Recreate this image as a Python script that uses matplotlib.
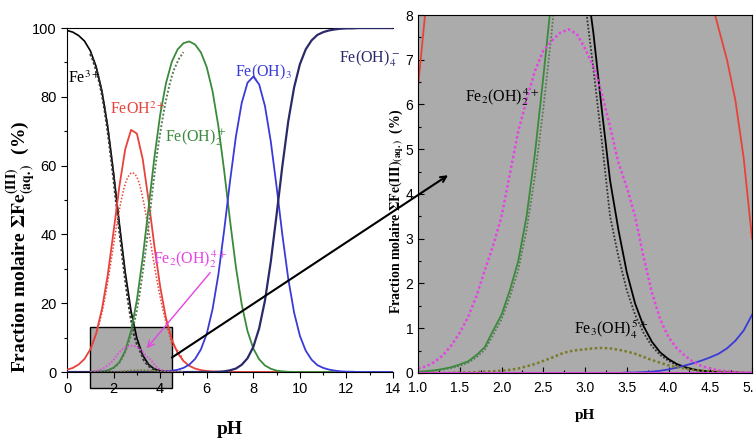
import matplotlib.pyplot as plt
from matplotlib.patches import Rectangle
from matplotlib.ticker import MultipleLocator, FormatStrFormatter

# ---- left panel : mononuclear species, whole pH range ----
ph = [0, 0.25, 0.5, 0.75, 1, 1.25, 1.5, 1.75, 2, 2.25, 2.5, 2.75, 3, 3.25, 3.5, 3.75,
      4, 4.25, 4.5, 4.75, 5, 5.25, 5.5, 5.75, 6, 6.25, 6.5, 6.75, 7, 7.25, 7.5, 7.75,
      8, 8.25, 8.5, 8.75, 9, 9.25, 9.5, 9.75, 10, 10.25, 10.5, 10.75, 11, 11.25, 11.5,
      11.75, 12, 12.25, 12.5, 12.75, 13, 13.25, 13.5, 13.75, 14]

fe3 = [99.3, 98.8, 97.8, 96.2, 93.4, 88.8, 81.6, 71.2, 57.8, 43.0, 29.0, 17.7, 9.8, 4.9,
       2.2, 0.9, 0.35, 0.12, 0.04] + [0] * 38
feoh = [0.7, 1.2, 2.2, 3.8, 6.6, 11.2, 18.3, 28.3, 40.9, 54.1, 64.8, 70.4, 69.3, 61.9,
        50.0, 36.7, 24.8, 15.6, 9.4, 5.5, 3.2, 1.8, 1.0, 0.55, 0.3, 0.15, 0.07] + [0] * 30
feoh2 = [0, 0, 0, 0, 0.02, 0.06, 0.17, 0.48, 1.24, 2.9, 6.2, 11.95, 20.9, 33.2, 47.7,
         62.3, 74.8, 84.0, 90.2, 93.8, 95.6, 96.1, 95.2, 92.9, 88.6, 81.6, 71.4, 58.4,
         44.0, 30.6, 19.7, 11.9, 6.8, 3.7, 1.9, 0.95, 0.4, 0.2, 0.07, 0.03] + [0] * 17
feoh3 = [0] * 16 + [0.09, 0.19, 0.36, 0.66, 1.2, 2.15, 3.8, 6.6, 11.1, 18.3, 28.4, 41.35,
                    55.5, 68.4, 78.2, 84.1, 85.9, 83.6, 77.3, 67.0, 53.8, 39.7, 27.1, 17.3,
                    10.5, 6.2, 3.6, 2.0, 1.2, 0.7, 0.4, 0.2, 0.1, 0.1] + [0] * 7
feoh4 = [0] * 26 + [0.08, 0.2, 0.5, 1.0, 2.1, 4.0, 7.3, 12.7, 20.8, 32.1, 45.8, 60.1,
                    72.9, 82.7, 89.5, 93.8, 96.4, 98.0, 98.8, 99.3, 99.6, 99.8, 99.9,
                    99.9] + [100] * 7

# ---- zoomed range pH 1-5 (also polynuclear species) ----
ph_z = [1.0, 1.1, 1.2, 1.3, 1.4, 1.5, 1.6, 1.7, 1.8, 1.9, 2.0, 2.1, 2.2, 2.3, 2.4, 2.5,
        2.6, 2.7, 2.8, 2.9, 3.0, 3.1, 3.2, 3.3, 3.4, 3.5, 3.6, 3.7, 3.8, 3.9, 4.0, 4.1,
        4.2, 4.3, 4.4, 4.5, 4.6, 4.7, 4.8, 4.9, 5.0]

feoh_z = [6.4, 8.3, 10.2, 12.5, 15, 18, 21.5, 25.5, 30, 35, 40.5, 46, 51.5, 56.5, 61,
          64.5, 67.5, 69.5, 70.5, 70.3, 69, 66.8, 63.5, 59.5, 55, 50, 45, 39.5, 34.5,
          29.5, 25, 21, 17.5, 14.3, 11.4, 8.4, 7.7, 7.0, 6.1, 4.8, 3.0]
feoh_poly = [6.3, 8.1, 9.9, 12.1, 14.5, 17.3, 20.6, 24.3, 28.3, 32.6, 37, 41.3, 45.4, 49,
             52.2, 54.7, 56.5, 57.6, 58, 57.7, 56.7, 54.9, 52.3, 49, 45.2, 41.2, 37.2, 33,
             29, 25.3, 21.8, 18.6, 15.7, 13.1, 10.7, 8.0, 7.3, 6.7, 5.8, 4.6, 2.9]
feoh2_z = [0.03, 0.04, 0.06, 0.09, 0.13, 0.19, 0.26, 0.4, 0.58, 0.95, 1.3, 1.85, 2.5, 3.5,
           4.9, 6.6, 8.4, 10.5, 13, 16, 19.5, 23.5, 28, 33, 38, 44, 50, 56, 61.5, 66.5,
           71, 75, 79, 82, 85, 87.5, 89.5, 91, 92.5, 93.5, 94.5]
feoh2_poly = [0.02, 0.03, 0.05, 0.08, 0.11, 0.16, 0.23, 0.35, 0.52, 0.85, 1.2, 1.7, 2.3,
              3.2, 4.4, 5.9, 7.6, 9.6, 12, 14.8, 18, 22, 26.5, 31.5, 36.5, 42.5, 48.5,
              54.5, 60, 65, 69.5, 73.5, 77.5, 80.5, 83.5, 86, 88, 89.5, 91, 92, 93]
fe3_z = [93, 91.5, 89.5, 87.3, 84.8, 81.6, 78, 73.5, 68.7, 63.4, 57.8, 51.7, 45.8, 40, 34,
         28.5, 23.5, 18.7, 14.5, 11, 9.0, 7.6, 5.9, 4.3, 3.2, 2.25, 1.55, 1.05, 0.7, 0.46,
         0.31, 0.2, 0.13, 0.08, 0.05, 0.03, 0.02, 0.01, 0.01, 0, 0]
fe3_poly = [92.5, 91, 89, 86.7, 84, 80.8, 77, 72.5, 67.5, 62, 56.3, 50.2, 44.2, 38.3, 32.5,
            27, 22, 17.5, 13.5, 10.3, 8.3, 6.8, 5.2, 3.5, 2.6, 1.85, 1.3, 0.9, 0.6, 0.4,
            0.27, 0.17, 0.11, 0.07, 0.04, 0.03, 0.02, 0.01, 0.01, 0, 0]
feoh3_z = [0] * 25 + [0.01, 0.01, 0.02, 0.03, 0.05, 0.08, 0.12, 0.17, 0.22, 0.28, 0.35,
                      0.43, 0.55, 0.72, 0.95, 1.3]
fe2oh2 = [0.1, 0.15, 0.25, 0.4, 0.62, 0.9, 1.25, 1.72, 2.3, 2.85, 3.5, 4.45, 5.4, 6.1,
          6.75, 7.2, 7.42, 7.6, 7.68, 7.58, 7.25, 6.85, 6.25, 5.5, 4.7, 4.15, 3.5, 2.6,
          1.8, 1.2, 0.8, 0.55, 0.38, 0.24, 0.15, 0.1, 0.06, 0.04, 0.02, 0.01, 0.01]
fe3oh4 = [0, 0, 0, 0, 0, 0.01, 0.01, 0.02, 0.03, 0.04, 0.05, 0.07, 0.1, 0.15, 0.2, 0.27,
          0.34, 0.42, 0.48, 0.51, 0.53, 0.55, 0.56, 0.55, 0.52, 0.48, 0.43, 0.36, 0.29,
          0.23, 0.17, 0.13, 0.1, 0.07, 0.05, 0.04, 0.03, 0.02, 0.01, 0.01, 0]
feoh4_z = [0] * 41

RED = '#e8423c'
GREEN = '#3b8a3b'
BLUE = '#3a3ad8'
NAVY = '#2a2a6a'
MAG = '#e444e4'
OLIVE = '#7a7a28'
GRAY = '#ababab'

plt.rcParams['mathtext.fontset'] = 'stix'
SERIF = 'Liberation Serif'

fig = plt.figure(figsize=(7.54, 4.40), dpi=100)
ax1 = fig.add_axes([0.0889, 0.1545, 0.4324, 0.7818])
ax2 = fig.add_axes([0.5544, 0.1523, 0.4430, 0.8136])

# left panel
ax1.add_patch(Rectangle((1, -4.6), 3.5, 17.6, facecolor=GRAY, edgecolor='black',
                        lw=1.0, clip_on=False, zorder=1))
ax1.plot(ph, fe3, color='black', lw=1.2, zorder=3)
ax1.plot(ph_z, fe3_poly, color='#333333', lw=1.8, ls=(0, (1, 0.8)), zorder=3)
ax1.plot(ph, feoh, color=RED, lw=1.3, zorder=3)
ax1.plot(ph_z, feoh_poly, color=RED, lw=1.1, ls=(0, (1, 1.2)), zorder=3)
ax1.plot(ph, feoh2, color=GREEN, lw=1.3, zorder=3)
ax1.plot(ph_z, feoh2_poly, color='#5a7a5a', lw=1.4, ls=(0, (1, 1)), zorder=3)
ax1.plot(ph, feoh3, color=BLUE, lw=1.3, zorder=3)
ax1.plot(ph, feoh4, color=NAVY, lw=1.6, zorder=3)
ax1.plot(ph_z, fe2oh2, color=MAG, lw=1.2, ls=(0, (1, 1)), zorder=3)
ax1.plot(ph_z, fe3oh4, color=OLIVE, lw=1.2, ls=(0, (1, 1)), zorder=3)

ax1.set_xlim(0, 14)
ax1.set_ylim(0, 100)
ax1.xaxis.set_major_locator(MultipleLocator(2))
ax1.xaxis.set_minor_locator(MultipleLocator(1))
ax1.yaxis.set_major_locator(MultipleLocator(20))
ax1.yaxis.set_minor_locator(MultipleLocator(10))
ax1.tick_params(which='both', direction='out', labelsize=10.5, width=0.8)
ax1.tick_params(which='major', length=4)
ax1.tick_params(which='minor', length=2.5)
ax1.spines['right'].set_visible(False)
for lab in ax1.get_xticklabels() + ax1.get_yticklabels():
    lab.set_family('Liberation Sans')

sp = dict(family=SERIF, fontsize=11.5)
ax1.text(0.05, 84, r'Fe$^{3+}$', color='black', **sp)
ax1.text(1.85, 75, r'FeOH$^{2+}$', color=RED, **sp)
ax1.text(4.2, 67, r'Fe(OH)$_2^{\,+}$', color=GREEN, **sp)
ax1.text(7.2, 86, r'Fe(OH)$_3$', color=BLUE, **sp)
ax1.text(11.7, 90, r'Fe(OH)$_4^{\,-}$', color=NAVY, **sp)
ax1.annotate(r'Fe$_2$(OH)$_2^{\,4+}$', xy=(3.42, 6.9), xytext=(3.7, 31.5),
             color=MAG, fontsize=11.5, family=SERIF,
             arrowprops=dict(arrowstyle='->', color=MAG, lw=1.0,
                             shrinkA=0, shrinkB=0, relpos=(0.8, 0)))

ax1.set_xlabel('pH', family=SERIF, fontsize=14, fontweight='bold', labelpad=18)
fig.text(0.027, 0.44, r'Fraction molaire $\mathbf{\Sigma Fe}^{\mathbf{(III)}}_{\mathbf{(aq.)}}$  (%)',
         rotation=90, ha='center', va='center', family=SERIF, fontsize=14,
         fontweight='bold')

# right panel (zoom)
ax2.set_facecolor(GRAY)
ax2.plot(ph_z, feoh_z, color=RED, lw=1.3)
ax2.plot(ph_z, feoh2_poly, color='#5a7a5a', lw=1.3, ls=(0, (1, 1)))
ax2.plot(ph_z, feoh2_z, color=GREEN, lw=1.3)
ax2.plot(ph_z, fe3_poly, color='#333333', lw=1.3, ls=(0, (1, 1)))
ax2.plot(ph_z, fe3_z, color='black', lw=1.3)
ax2.plot(ph_z, feoh3_z, color=BLUE, lw=1.3)
ax2.plot(ph_z, fe2oh2, color=MAG, lw=1.8, ls=(0, (1, 1)))
ax2.plot(ph_z, fe3oh4, color=OLIVE, lw=1.8, ls=(0, (1, 1)))
ax2.plot(ph_z, feoh4_z, color=MAG, lw=1.5)

ax2.set_xlim(1, 5)
ax2.set_ylim(0, 8)
ax2.xaxis.set_major_locator(MultipleLocator(0.5))
ax2.xaxis.set_minor_locator(MultipleLocator(0.25))
ax2.yaxis.set_major_locator(MultipleLocator(1))
ax2.yaxis.set_minor_locator(MultipleLocator(0.5))
ax2.xaxis.set_major_formatter(FormatStrFormatter('%.1f'))
ax2.tick_params(which='both', direction='in', labelsize=10, width=0.8)
ax2.tick_params(which='major', length=4)
ax2.tick_params(which='minor', length=2.5)
ax2.tick_params(axis='x', pad=6)
for lab in ax2.get_xticklabels() + ax2.get_yticklabels():
    lab.set_family('Liberation Sans')

ax2.text(1.56, 6.05, r'Fe$_2$(OH)$_2^{\,4+}$', color='black', **sp)
ax2.text(2.87, 0.85, r'Fe$_3$(OH)$_4^{\,5+}$', color='black', **sp)

ax2.set_xlabel('pH', family=SERIF, fontsize=11, fontweight='bold', labelpad=10)
fig.text(0.526, 0.52, r'Fraction molaire $\mathbf{\Sigma Fe(III)}_{\mathbf{(aq.)}}$  (%)',
         rotation=90, ha='center', va='center', family=SERIF, fontsize=10,
         fontweight='bold')

# connector arrow from the shaded box to the zoomed panel
ax2.annotate('', xy=(1.36, 4.42), xycoords=ax2.transData,
             xytext=(4.5, 4.2), textcoords=ax1.transData,
             arrowprops=dict(arrowstyle='->', color='black', lw=1.5,
                             shrinkA=0, shrinkB=0), annotation_clip=False)

fig.savefig('out.png', dpi=100)
